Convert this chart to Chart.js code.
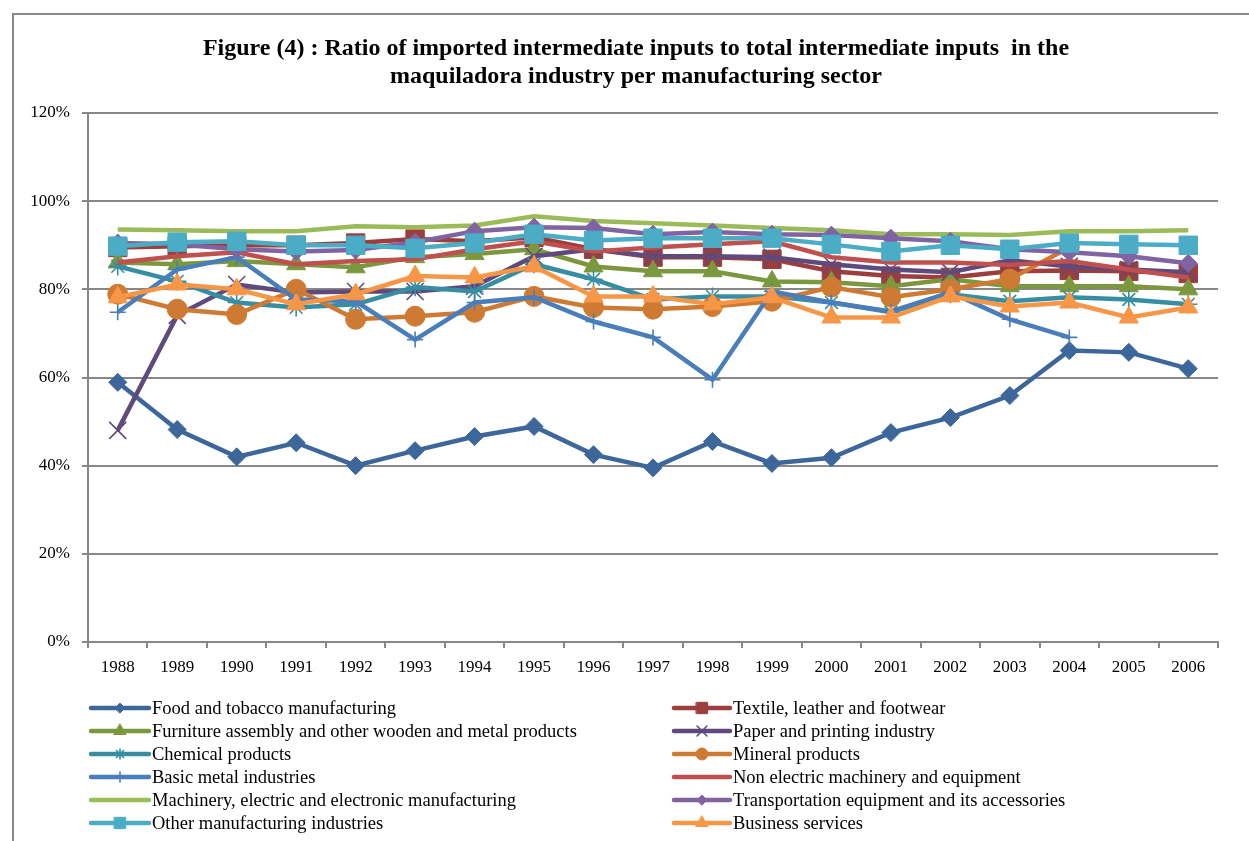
<!DOCTYPE html>
<html>
<head>
<meta charset="utf-8">
<script src="https://cdn.jsdelivr.net/npm/chart.js@4.4.1/dist/chart.umd.min.js"></script>
<style>
  html, body { margin: 0; padding: 0; background: #fff; }
  #wrap { width: 1249px; height: 841px; }
</style>
</head>
<body>
<div id="wrap"><canvas id="importChart" width="1249" height="841"></canvas></div>
<script>
const years = ['1988', '1989', '1990', '1991', '1992', '1993', '1994', '1995', '1996', '1997',
  '1998', '1999', '2000', '2001', '2002', '2003', '2004', '2005', '2006'];

// share of imported intermediate inputs, in %
const food = [58.9, 48.2, 42.0, 45.2, 40.0, 43.4, 46.6, 48.9, 42.5, 39.5, 45.5, 40.5, 41.8, 47.5, 50.9, 55.9, 66.1, 65.7, 62.0];
const textile = [89.5, 89.8, 90.0, 90.0, 90.5, 91.4, 90.9, 91.8, 89.1, 87.3, 87.3, 86.8, 84.1, 83.0, 82.7, 84.1, 84.3, 84.1, 83.6];
const furniture = [86.1, 85.7, 86.4, 85.7, 85.0, 87.3, 88.0, 89.1, 85.2, 84.1, 84.1, 81.8, 81.6, 80.7, 82.3, 80.7, 80.7, 80.7, 80.0];
const paper = [48.0, 74.1, 81.1, 79.3, 79.5, 79.5, 80.7, 87.5, 89.1, 87.5, 87.5, 87.3, 85.7, 84.5, 83.9, 86.6, 85.2, 84.5, 83.9];
const chemical = [85.2, 81.8, 77.0, 75.9, 76.6, 80.5, 79.5, 85.7, 82.3, 77.7, 78.4, 78.4, 77.0, 74.8, 78.9, 77.3, 78.2, 77.7, 76.6];
const mineral = [78.9, 75.5, 74.3, 80.0, 73.2, 73.9, 74.8, 78.4, 75.9, 75.5, 76.1, 77.3, 80.5, 78.2, 80.0, 82.3, 89.5, null, null];
const basicMetal = [74.8, 84.5, 87.3, 77.7, 77.3, 68.6, 77.0, 78.2, 72.7, 69.1, 59.5, 79.5, 77.0, 75.0, 79.3, 73.2, 69.1, null, null];
const nonElectric = [86.1, 87.5, 88.4, 85.7, 86.4, 86.8, 89.1, 90.9, 88.6, 89.5, 90.2, 90.9, 87.3, 86.1, 86.1, 85.5, 86.4, 84.5, 82.7];
const machinery = [93.6, 93.4, 93.2, 93.2, 94.3, 94.1, 94.5, 96.6, 95.5, 95.0, 94.5, 93.9, 93.4, 92.5, 92.5, 92.3, 93.2, 93.2, 93.4];
const transport = [90.5, 90.2, 89.1, 88.6, 88.9, 90.7, 93.2, 94.1, 93.9, 92.5, 93.0, 92.5, 92.3, 91.6, 90.9, 89.1, 88.4, 87.5, 85.9];
const otherMfg = [89.8, 90.7, 90.9, 90.0, 90.0, 89.3, 90.5, 92.5, 91.1, 91.6, 91.6, 91.6, 90.2, 88.6, 90.0, 89.1, 90.5, 90.2, 90.0];
const business = [78.2, 81.1, 80.0, 76.6, 78.9, 83.0, 82.7, 85.2, 78.4, 78.4, 76.6, 78.2, 73.6, 73.6, 78.4, 76.1, 77.0, 73.6, 75.9];

const titleLines = [
  'Figure (4) : Ratio of imported intermediate inputs to total intermediate inputs  in the',
  'maquiladora industry per manufacturing sector'
];

const serif = '"Liberation Serif", "Times New Roman", serif';
const gridGray = '#878787';

function series(label, data, color, style, radius) {
  return {
    label: label,
    data: data,
    borderColor: color,
    backgroundColor: color,
    borderWidth: 4.5,
    pointStyle: style,
    pointRadius: style ? radius : 0,
    pointBorderWidth: (style === 'cross' || style === 'crossRot' || style === 'star') ? 1.6 : 1,
    pointBorderColor: color,
    pointBackgroundColor: color,
    tension: 0,
    spanGaps: false
  };
}

const datasets = [
  series('Food and tobacco manufacturing', food, '#3d679b', 'rectRot', 9),
  series('Textile, leather and footwear', textile, '#9c3e3b', 'rect', 13),
  series('Furniture assembly and other wooden and metal products', furniture, '#7b983f', 'triangle', 11),
  series('Paper and printing industry', paper, '#5f4a7d', 'crossRot', 12),
  series('Chemical products', chemical, '#378ea3', 'star', 9),
  series('Mineral products', mineral, '#cf7a33', 'circle', 10),
  series('Basic metal industries', basicMetal, '#4a7ebb', 'cross', 8),
  series('Non electric machinery and equipment', nonElectric, '#c0504d', false, 0),
  series('Machinery, electric and electronic manufacturing', machinery, '#9bbb59', false, 0),
  series('Transportation equipment and its accessories', transport, '#8064a2', 'rectRot', 9),
  series('Other manufacturing industries', otherMfg, '#4bacc6', 'rect', 13),
  series('Business services', business, '#f79646', 'triangle', 11)
];
// later series sit on top of earlier ones
datasets.forEach((ds, i) => { ds.order = datasets.length - i; });

// outer frame and two-line title
const framePlugin = {
  id: 'frame',
  beforeDraw(chart) {
    const ctx = chart.ctx;
    ctx.save();
    ctx.fillStyle = '#fff';
    ctx.fillRect(0, 0, chart.width, chart.height);
    ctx.strokeStyle = '#888';
    ctx.lineWidth = 2;
    ctx.beginPath();
    ctx.moveTo(13, chart.height + 2);
    ctx.lineTo(13, 14);
    ctx.lineTo(chart.width + 2, 14);
    ctx.stroke();

    ctx.fillStyle = '#000';
    ctx.font = 'bold 24px ' + serif;
    ctx.textAlign = 'center';
    ctx.textBaseline = 'middle';
    titleLines.forEach((line, i) => ctx.fillText(line, 636, 49 + i * 28));
    ctx.restore();
  }
};

// two-column legend under the axis
const legendPlugin = {
  id: 'twoColLegend',
  afterDraw(chart) {
    const ctx = chart.ctx;
    const cols = [{ x0: 91, x1: 149, tx: 152 }, { x0: 674, x1: 730, tx: 733 }];
    ctx.save();
    chart.data.datasets.forEach((ds, i) => {
      const c = cols[i % 2];
      const y = 708 + Math.floor(i / 2) * 23;
      ctx.strokeStyle = ds.borderColor;
      ctx.lineWidth = 4.5;
      ctx.lineCap = 'round';
      ctx.beginPath();
      ctx.moveTo(c.x0, y);
      ctx.lineTo(c.x1, y);
      ctx.stroke();
      if (ds.pointStyle) {
        ctx.fillStyle = ds.pointBackgroundColor;
        ctx.strokeStyle = ds.pointBorderColor;
        ctx.lineWidth = ds.pointBorderWidth;
        Chart.helpers.drawPoint(ctx, {
          pointStyle: ds.pointStyle,
          radius: Math.round(ds.pointRadius * 0.6),
          rotation: 0,
          borderWidth: ds.pointBorderWidth
        }, (c.x0 + c.x1) / 2, y);
      }
      ctx.fillStyle = '#000';
      ctx.font = '18.5px ' + serif;
      ctx.textAlign = 'left';
      ctx.textBaseline = 'middle';
      ctx.fillText(ds.label, c.tx, y + 1);
    });
    ctx.restore();
  }
};

new Chart(document.getElementById('importChart'), {
  type: 'line',
  data: { labels: years, datasets: datasets },
  plugins: [framePlugin, legendPlugin],
  options: {
    responsive: false,
    animation: false,
    layout: { padding: { left: 0, top: 113, right: 31, bottom: 159 } },
    plugins: {
      legend: { display: false },
      title: { display: false },
      tooltip: { enabled: false }
    },
    scales: {
      x: {
        offset: true,
        afterFit(scale) { scale.height = 40; },
        grid: {
          offset: true,
          drawOnChartArea: false,
          drawTicks: true,
          tickLength: 6,
          color: gridGray,
          lineWidth: 2
        },
        border: { display: true, color: gridGray, width: 2 },
        ticks: {
          color: '#000',
          font: { family: serif, size: 17 },
          padding: 9,
          maxRotation: 0,
          autoSkip: false
        }
      },
      y: {
        min: 0,
        max: 120,
        afterFit(scale) { scale.width = 88; },
        grid: {
          color: gridGray,
          lineWidth: 2,
          tickLength: 6
        },
        border: { display: true, color: gridGray, width: 2 },
        ticks: {
          stepSize: 20,
          color: '#000',
          padding: 12,
          font: { family: serif, size: 17 },
          callback: v => v + '%'
        }
      }
    }
  }
});
</script>
</body>
</html>
